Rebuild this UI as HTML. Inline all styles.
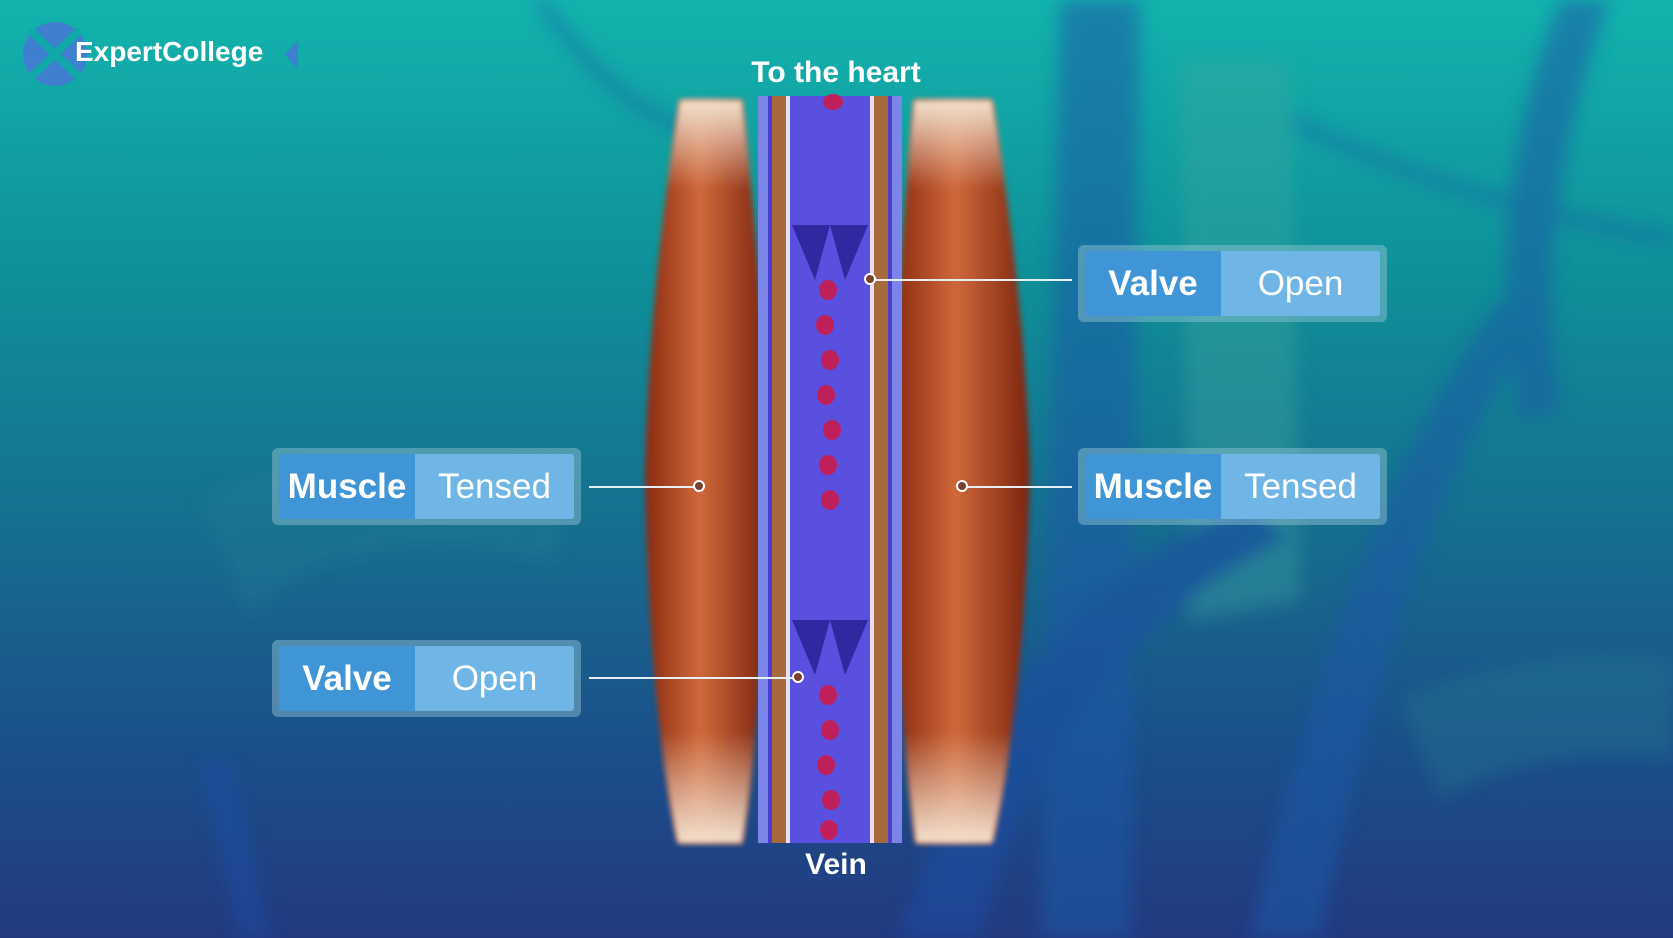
<!DOCTYPE html>
<html><head><meta charset="utf-8">
<style>
html,body{margin:0;padding:0}
body{width:1673px;height:938px;overflow:hidden;position:relative;font-family:"Liberation Sans",sans-serif;
background:linear-gradient(180deg,#13b3ad 0%,#0f8f98 30%,#16708f 55%,#1b4f8a 80%,#233a80 100%);}
.abs{position:absolute}
.box{position:absolute;background:rgba(150,200,215,0.45);border-radius:6px}
.box .d{position:absolute;left:7px;top:6px;bottom:6px;background:#3f95d6;color:#fff;font-weight:bold;font-size:35px;display:flex;align-items:center;justify-content:center;border-radius:3px 0 0 3px}
.box .l{position:absolute;top:6px;bottom:6px;right:7px;background:#6fb6e6;color:#fff;font-size:35px;display:flex;align-items:center;justify-content:center;border-radius:0 3px 3px 0}
.line{position:absolute;height:2px;background:#e6f0f4}
.dot{position:absolute;width:8px;height:8px;border:2px solid #fff;border-radius:50%;background:#7a4030}
.lbl{position:absolute;color:#fff;font-weight:bold;font-size:30px;text-align:center;width:300px}
</style></head><body>
<svg class="abs" style="left:0;top:0" width="1673" height="938">
<defs>
<filter id="b" x="-20%" y="-20%" width="140%" height="140%"><feGaussianBlur stdDeviation="9"/></filter>
<filter id="b2"><feGaussianBlur stdDeviation="3"/></filter>
<linearGradient id="mus" x1="0" x2="1"><stop offset="0" stop-color="#8a2a10"/><stop offset="0.45" stop-color="#d0683a"/><stop offset="1" stop-color="#7a2410"/></linearGradient>
<linearGradient id="musv" x1="0" y1="0" x2="0" y2="1"><stop offset="0" stop-color="#f3e2cf" stop-opacity="1"/><stop offset="0.12" stop-color="#f3e2cf" stop-opacity="0"/><stop offset="0.85" stop-color="#f3e2cf" stop-opacity="0"/><stop offset="1" stop-color="#f3e2cf" stop-opacity="1"/></linearGradient>
</defs>
<g filter="url(#b)" opacity="0.55">
<path d="M1060 0 L1140 0 L1130 938 L1040 938 Z" fill="#1d5aa8"/>
<path d="M1180 60 L1290 60 L1300 600 L1190 620 Z" fill="#3fa7a0" opacity="0.7"/>
<path d="M900 938 Q1000 600 1250 500 L1290 540 Q1050 650 980 938 Z" fill="#1d4fa5"/>
<path d="M1250 938 Q1350 500 1500 300 L1540 320 Q1400 520 1320 938 Z" fill="#1d5aa8"/>
<path d="M1560 0 Q1480 200 1520 420 L1560 410 Q1530 220 1610 0Z" fill="#1d5aa8"/>
<path d="M200 500 Q300 430 560 470 L560 560 Q320 520 250 620 Z" fill="#2a7f95" opacity="0.6"/>
<path d="M1400 700 Q1550 640 1673 660 L1673 760 Q1550 740 1440 800Z" fill="#2a8090" opacity="0.6"/>
<path d="M200 760 L240 938 L270 938 L230 760Z" fill="#1d4fa5"/>
<path d="M540 0 Q620 120 720 140" stroke="#1d5aa8" stroke-width="10" fill="none"/>
<path d="M1290 120 Q1450 200 1673 240" stroke="#1d5aa8" stroke-width="10" fill="none"/>
</g>
<!-- muscles -->
<path d="M680 100 L742 100 Q765 300 768 470 Q765 700 742 843 L678 843 Q648 700 645 470 Q650 280 680 100Z" fill="url(#mus)" filter="url(#b2)"/>
<path d="M680 100 L742 100 Q765 300 768 470 Q765 700 742 843 L678 843 Q648 700 645 470 Q650 280 680 100Z" fill="url(#musv)" filter="url(#b2)"/>
<path d="M914 100 L992 100 Q1025 300 1030 470 Q1025 700 992 843 L916 843 Q896 700 894 470 Q896 280 914 100Z" fill="url(#mus)" filter="url(#b2)"/>
<path d="M914 100 L992 100 Q1025 300 1030 470 Q1025 700 992 843 L916 843 Q896 700 894 470 Q896 280 914 100Z" fill="url(#musv)" filter="url(#b2)"/>
<!-- vein -->
<rect x="758" y="96" width="144" height="747" fill="#4b3fd0"/>
<rect x="758" y="96" width="10" height="747" fill="#7b86e8"/>
<rect x="892" y="96" width="10" height="747" fill="#7b86e8"/>
<rect x="772" y="96" width="14" height="747" fill="#a86a3c"/>
<rect x="874" y="96" width="14" height="747" fill="#a86a3c"/>
<rect x="786" y="96" width="4" height="747" fill="#e8e0f0"/>
<rect x="870" y="96" width="4" height="747" fill="#e8e0f0"/>
<rect x="790" y="96" width="80" height="747" fill="#5a50e0"/>
<path d="M792 225 L830 225 L815 280 Z M868 225 L830 225 L845 280Z" fill="#3028a0"/>
<path d="M792 620 L830 620 L815 675 Z M868 620 L830 620 L845 675Z" fill="#3028a0"/>
<g fill="#c0205a">
<ellipse cx="833" cy="102" rx="10" ry="8"/>
<ellipse cx="828" cy="290" rx="9" ry="10"/><ellipse cx="825" cy="325" rx="9" ry="10"/><ellipse cx="830" cy="360" rx="9" ry="10"/>
<ellipse cx="826" cy="395" rx="9" ry="10"/><ellipse cx="832" cy="430" rx="9" ry="10"/><ellipse cx="828" cy="465" rx="9" ry="10"/><ellipse cx="830" cy="500" rx="9" ry="10"/>
<ellipse cx="828" cy="695" rx="9" ry="10"/><ellipse cx="830" cy="730" rx="9" ry="10"/><ellipse cx="826" cy="765" rx="9" ry="10"/><ellipse cx="831" cy="800" rx="9" ry="10"/><ellipse cx="829" cy="830" rx="9" ry="10"/>
</g>
<!-- logo -->
<circle cx="55" cy="54" r="32" fill="#3f7fd0"/>
<path d="M30 30 L80 78 M80 30 L30 78" stroke="#10a8a8" stroke-width="8"/>
<path d="M298 40 L285 54 L298 70 Z" fill="#3f7fd0"/>
</svg>
<div class="abs" style="left:75px;top:36px;color:#fff;font-size:28px;font-weight:bold">ExpertCollege</div>
<div class="lbl" style="left:686px;top:56px">To the heart</div>
<div class="lbl" style="left:686px;top:848px">Vein</div>

<div class="line" style="left:870px;top:279px;width:202px"></div>
<div class="dot" style="left:864px;top:273px"></div>
<div class="line" style="left:589px;top:486px;width:110px"></div>
<div class="dot" style="left:693px;top:480px"></div>
<div class="line" style="left:962px;top:486px;width:110px"></div>
<div class="dot" style="left:956px;top:480px"></div>
<div class="line" style="left:589px;top:677px;width:209px"></div>
<div class="dot" style="left:792px;top:671px"></div>

<div class="box" style="left:1078px;top:245px;width:309px;height:77px"><div class="d" style="width:136px">Valve</div><div class="l" style="left:143px">Open</div></div>
<div class="box" style="left:1078px;top:448px;width:309px;height:77px"><div class="d" style="width:136px">Muscle</div><div class="l" style="left:143px">Tensed</div></div>
<div class="box" style="left:272px;top:448px;width:309px;height:77px"><div class="d" style="width:136px">Muscle</div><div class="l" style="left:143px">Tensed</div></div>
<div class="box" style="left:272px;top:640px;width:309px;height:77px"><div class="d" style="width:136px">Valve</div><div class="l" style="left:143px">Open</div></div>
</body></html>
